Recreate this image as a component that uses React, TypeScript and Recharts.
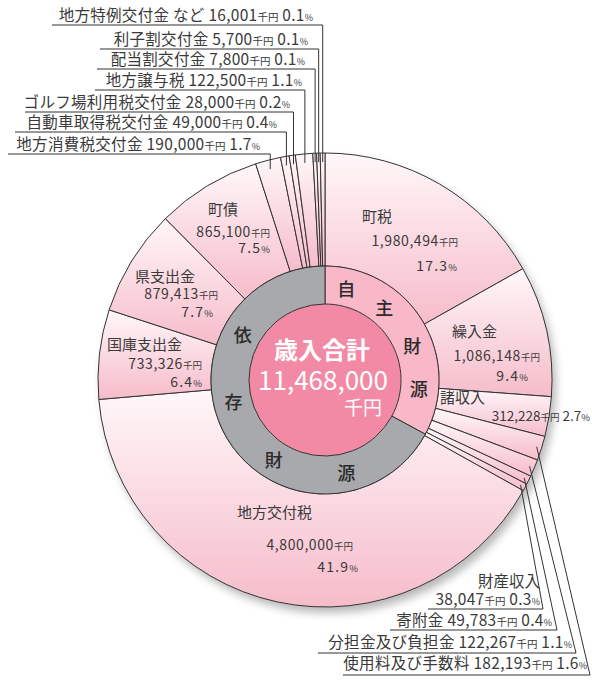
import { PieChart, Pie, Cell } from 'recharts';

const W = 592;
const H = 683;
const CX = 325;
const CY = 380;
const R_OUT = 227;
const R_MID = 114;
const R_IN = 76;
const MIN_ANGLE = 0.73; // tiny slices get a little extra room, as in the printed chart

// 歳入 (千円), clockwise from 12 o'clock
const names = [
  '町税', '繰入金', '諸収入', '使用料及び手数料', '分担金及び負担金', '寄附金', '財産収入',
  '地方交付税', '国庫支出金', '県支出金', '町債', '地方消費税交付金', '自動車取得税交付金',
  'ゴルフ場利用税交付金', '地方譲与税', '配当割交付金', '利子割交付金', '地方特例交付金 など',
];
const values = [
  1980494, 1086148, 312228, 182193, 122267, 49783, 38047,
  4800000, 733326, 879413, 865100, 190000, 49000,
  28000, 122500, 7800, 5700, 16001,
];
const percents = [
  '17.3', '9.4', '2.7', '1.6', '1.1', '0.4', '0.3',
  '41.9', '6.4', '7.7', '7.5', '1.7', '0.4',
  '0.2', '1.1', '0.1', '0.1', '0.1',
];
const groupNames = ['自主財源', '依存財源'];
const groupSize = [7, 11];
const totalLabel = '歳入合計';

const INK = '#3a3a3a';
const FONT = '"Noto Sans CJK JP", "Noto Sans", sans-serif';

const fmt = (v: number) => v.toLocaleString('en-US');

const outerData = names.map((name, i) => ({ name, value: values[i] }));
const groupData = groupNames.map((name, g) => {
  const from = groupSize.slice(0, g).reduce((a, b) => a + b, 0);
  return { name, value: values.slice(from, from + groupSize[g]).reduce((a, b) => a + b, 0) };
});
const total = values.reduce((a, b) => a + b, 0);

// same angle rule recharts uses with minAngle
function sectorAngles(vals: number[]) {
  const sum = vals.reduce((a, b) => a + b, 0);
  const real = 360 - vals.length * MIN_ANGLE;
  let start = 90;
  return vals.map((v) => {
    const end = start - (MIN_ANGLE + (v / sum) * real);
    const s = { start, end, mid: (start + end) / 2 };
    start = end;
    return s;
  });
}
const angles = sectorAngles(values);
const pt = (a: number, r: number) => ({
  x: CX + r * Math.cos((a * Math.PI) / 180),
  y: CY - r * Math.sin((a * Math.PI) / 180),
});

// labels sitting inside the big slices
const inside: Record<string, { nx: number; ny: number; vx: number; vy: number; px: number; py: number }> = {
  町税: { nx: 362, ny: 222, vx: 458, vy: 246, px: 457, py: 271 },
  繰入金: { nx: 452, ny: 337, vx: 540, vy: 361, px: 528, py: 381 },
  地方交付税: { nx: 237, ny: 518, vx: 353, vy: 550, px: 358, py: 572 },
  国庫支出金: { nx: 107, ny: 350, vx: 202, vy: 369, px: 202, py: 387 },
  県支出金: { nx: 135, ny: 282, vx: 218, vy: 299, px: 213, py: 317 },
  町債: { nx: 208, ny: 215, vx: 270, vy: 237, px: 270, py: 253 },
};

// leader-line labels above the chart (text right end, baseline, underline y, underline start)
const topLabels: Record<string, { tx: number; ty: number; ly: number; lx: number }> = {
  '地方特例交付金 など': { tx: 313, ty: 21, ly: 25, lx: 52 },
  利子割交付金: { tx: 308, ty: 45, ly: 49, lx: 100 },
  配当割交付金: { tx: 305, ty: 65, ly: 69, lx: 97 },
  地方譲与税: { tx: 302, ty: 86, ly: 90, lx: 95 },
  ゴルフ場利用税交付金: { tx: 290, ty: 108, ly: 112, lx: 25 },
  自動車取得税交付金: { tx: 277, ty: 128, ly: 132, lx: 15 },
  地方消費税交付金: { tx: 260, ty: 150, ly: 154, lx: 8 },
};

// leader-line labels below the chart
const bottomLabels: Record<string, { tx: number; ty: number; ly: number; lx: number; cx: number; twoLine?: boolean }> = {
  財産収入: { tx: 540, ty: 605, ly: 609, lx: 428, cx: 543, twoLine: true },
  寄附金: { tx: 552, ty: 626, ly: 630, lx: 390, cx: 557 },
  分担金及び負担金: { tx: 572, ty: 648, ly: 653, lx: 318, cx: 576 },
  使用料及び手数料: { tx: 587, ty: 669, ly: 675, lx: 343, cx: 590 },
};

const ringChars = [
  { ch: '自', a: 13 }, { ch: '主', a: 39 }, { ch: '財', a: 68 }, { ch: '源', a: 95 },
  { ch: '依', a: 299 }, { ch: '存', a: 257 }, { ch: '財', a: 213 }, { ch: '源', a: 167 },
];

function Amount({ x, y, i, anchor = 'end' }: { x: number; y: number; i: number; anchor?: string }) {
  return (
    <text x={x} y={y} textAnchor={anchor as any} fontSize={14} fill={INK} letterSpacing={0.6}>
      {fmt(values[i])}
      <tspan fontSize={9.5} letterSpacing={0}>千円</tspan>
    </text>
  );
}

function Pct({ x, y, i }: { x: number; y: number; i: number }) {
  return (
    <text x={x} y={y} textAnchor="end" fontSize={14} fill={INK} letterSpacing={1.2}>
      {percents[i]}
      <tspan fontSize={9.5} letterSpacing={0}>%</tspan>
    </text>
  );
}

// one-line "name value千円 pct%" label
function LeaderText({ x, y, i, showName = true }: { x: number; y: number; i: number; showName?: boolean }) {
  return (
    <text x={x} y={y} textAnchor="end" fontSize={15.5} fill={INK} letterSpacing={0.3}>
      {showName ? `${names[i]} ` : ''}{fmt(values[i])}
      <tspan fontSize={10.5} letterSpacing={0}>千円</tspan>{' '}{percents[i]}
      <tspan fontSize={9} letterSpacing={0}>%</tspan>
    </text>
  );
}

function Overlay() {
  return (
    <svg width={W} height={H} style={{ position: 'absolute', left: 0, top: 0, pointerEvents: 'none' }} fontFamily={FONT}>
      {/* center */}
      <text x={CX - 3} y={CY - 21} textAnchor="middle" fontSize={24} fontWeight={700} fill="#fff">{totalLabel}</text>
      <text x={CX - 2} y={CY + 10} textAnchor="middle" fontSize={26} fill="#fff">{fmt(total)}</text>
      <text x={CX + 57} y={CY + 35} textAnchor="end" fontSize={19} fill="#fff">千円</text>

      {/* 自主財源 / 依存財源 */}
      {ringChars.map((c, k) => {
        const p = pt(90 - c.a, 94);
        return (
          <text key={k} x={p.x} y={p.y} textAnchor="middle" dominantBaseline="central" fontSize={18} fontWeight={500} fill="#2b2b2b">
            {c.ch}
          </text>
        );
      })}

      {/* labels in the large slices */}
      {Object.entries(inside).map(([name, l]) => {
        const i = names.indexOf(name);
        return (
          <g key={name}>
            <text x={l.nx} y={l.ny} fontSize={15} fill={INK}>{name}</text>
            <Amount x={l.vx} y={l.vy} i={i} />
            <Pct x={l.px} y={l.py} i={i} />
          </g>
        );
      })}

      {/* 諸収入 */}
      <text x={440} y={403} fontSize={15} fill={INK}>{names[2]}</text>
      <text x={590} y={421} textAnchor="end" fontSize={13.5} fill={INK}>
        {fmt(values[2])}<tspan fontSize={9.5}>千円</tspan>{' '}{percents[2]}<tspan fontSize={9.5}>%</tspan>
      </text>

      {/* top leader labels */}
      {Object.entries(topLabels).map(([name, l]) => {
        const i = names.indexOf(name);
        const p = pt(angles[i].mid, 218);
        return (
          <g key={name}>
            <LeaderText x={l.tx} y={l.ty} i={i} />
            <polyline points={`${l.lx},${l.ly} ${p.x},${l.ly} ${p.x},${p.y}`} fill="none" stroke="#333" strokeWidth={1} />
          </g>
        );
      })}

      {/* bottom leader labels */}
      {Object.entries(bottomLabels).map(([name, l]) => {
        const i = names.indexOf(name);
        const p = pt(angles[i].mid, 222);
        return (
          <g key={name}>
            {l.twoLine ? (
              <>
                <text x={l.tx} y={l.ty - 18} textAnchor="end" fontSize={15.5} fill={INK}>{name}</text>
                <LeaderText x={l.tx} y={l.ty} i={i} showName={false} />
              </>
            ) : (
              <LeaderText x={l.tx} y={l.ty} i={i} />
            )}
            <polyline points={`${l.lx},${l.ly} ${l.cx},${l.ly} ${p.x},${p.y}`} fill="none" stroke="#333" strokeWidth={1} />
          </g>
        );
      })}
    </svg>
  );
}

export default function App() {
  return (
    <div style={{ position: 'absolute', left: 0, top: 0, width: W, height: H, background: '#fff' }}>
      <div
        style={{
          position: 'absolute', left: CX - R_OUT, top: CY - R_OUT, width: R_OUT * 2, height: R_OUT * 2,
          borderRadius: '50%', boxShadow: '4px 6px 9px rgba(0,0,0,0.28)', background: '#fff',
        }}
      />
      <div style={{ position: 'absolute', left: 0, top: 0 }}>
        <PieChart width={W} height={H} margin={{ top: 0, right: 0, bottom: 0, left: 0 }}>
          <defs>
            <linearGradient id="sliceGrad" x1="0" y1="0" x2="0" y2="1">
              <stop offset="0%" stopColor="#fff7f9" />
              <stop offset="100%" stopColor="#f6bcca" />
            </linearGradient>
          </defs>
          <Pie
            data={outerData}
            dataKey="value"
            cx={CX}
            cy={CY}
            innerRadius={R_MID}
            outerRadius={R_OUT}
            startAngle={90}
            endAngle={-270}
            minAngle={MIN_ANGLE}
            stroke="#333"
            strokeWidth={1}
            isAnimationActive={false}
          >
            {outerData.map((d) => (
              <Cell key={d.name} fill="url(#sliceGrad)" />
            ))}
          </Pie>
          <Pie
            data={[{ name: totalLabel, value: total }]}
            dataKey="value"
            cx={CX}
            cy={CY}
            innerRadius={0}
            outerRadius={R_IN}
            startAngle={90}
            endAngle={-270}
            stroke="none"
            fill="#f28aa6"
            isAnimationActive={false}
          />
          <Pie
            data={groupData}
            dataKey="value"
            cx={CX}
            cy={CY}
            innerRadius={R_IN}
            outerRadius={R_MID}
            startAngle={90}
            endAngle={-270}
            minAngle={MIN_ANGLE}
            stroke="#333"
            strokeWidth={1}
            isAnimationActive={false}
          >
            <Cell fill="#f9b8c8" />
            <Cell fill="#a7a9ac" />
          </Pie>
        </PieChart>
      </div>
      <Overlay />
    </div>
  );
}
